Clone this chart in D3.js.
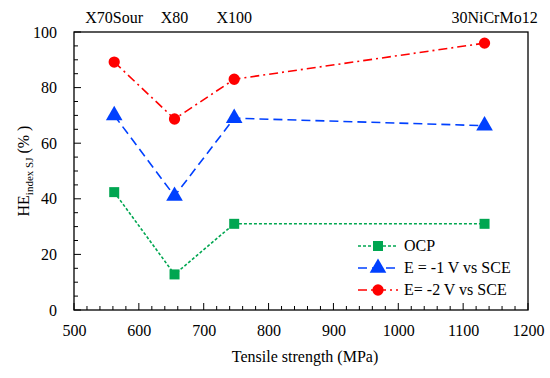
<!DOCTYPE html>
<html>
<head>
<meta charset="utf-8">
<script src="https://cdn.jsdelivr.net/npm/d3@7"></script>
</head>
<body style="margin:0;background:#fff">
<div id="chart"></div>
<script>
var w = 550, h = 378;
var margin = {top: 32, right: 22, bottom: 68, left: 74};
var font = "Liberation Serif";

// tensile strength of each steel (MPa)
var strength = [562, 655, 747, 1133];
var steels = ["X70Sour", "X80", "X100", "30NiCrMo12"];
// HE index (%)
var ocp = [42.4, 12.8, 31, 31];
var eMinus1 = [70, 41, 69, 66.3];
var eMinus2 = [89.2, 68.7, 83, 96];

var xTicks = [500, 600, 700, 800, 900, 1000, 1100, 1200];
var yTicks = [0, 20, 40, 60, 80, 100];

var series = [
    {name: "OCP", values: ocp, color: "#00a651", dash: "3,2", shape: d3.symbolSquare, size: 100},
    {name: "E = -1 V vs SCE", values: eMinus1, color: "#0040ff", dash: "9,5", shape: d3.symbolTriangle, size: 120},
    {name: "E= -2 V vs SCE", values: eMinus2, color: "#ff0000", dash: "9,4,2,4", shape: d3.symbolCircle, size: 100}
];

var svg = d3.select("#chart").append("svg")
    .attr("width", w)
    .attr("height", h)
    .attr("font-family", font);

var pw = w - margin.left - margin.right;
var ph = h - margin.top - margin.bottom;

var x = d3.scaleLinear().domain([500, 1200]).range([margin.left, margin.left + pw]);
var y = d3.scaleLinear().domain([0, 100]).range([margin.top + ph, margin.top]);

//frame
svg.append("rect")
    .attr("x", margin.left).attr("y", margin.top)
    .attr("width", pw).attr("height", ph)
    .attr("fill", "none").attr("stroke", "#000").attr("stroke-width", 1.3);

//ticks, inward, minor ones shorter
var xMinor = d3.range(500, 1201, 20);
var yMinor = d3.range(0, 101, 5);
svg.append("g").selectAll("line").data(xMinor).enter().append("line")
    .attr("x1", function (d) { return x(d); }).attr("x2", function (d) { return x(d); })
    .attr("y1", y(0)).attr("y2", function (d) { return y(0) - (d % 100 === 0 ? 7 : 4); })
    .attr("stroke", "#000").attr("stroke-width", 1);
svg.append("g").selectAll("line").data(yMinor).enter().append("line")
    .attr("y1", function (d) { return y(d); }).attr("y2", function (d) { return y(d); })
    .attr("x1", x(500)).attr("x2", function (d) { return x(500) + (d % 20 === 0 ? 7 : 4); })
    .attr("stroke", "#000").attr("stroke-width", 1);

//tick labels via axes
var xAxis = svg.append("g")
    .attr("transform", "translate(0," + (margin.top + ph) + ")")
    .call(d3.axisBottom(x).tickValues(xTicks).tickSize(0).tickPadding(15).tickFormat(d3.format("d")));
var yAxis = svg.append("g")
    .attr("transform", "translate(" + margin.left + ",0)")
    .call(d3.axisLeft(y).tickValues(yTicks).tickSize(0).tickPadding(17).tickFormat(d3.format("d")));
[xAxis, yAxis].forEach(function (a) {
    a.attr("font-family", font).attr("font-size", 16);
    a.select(".domain").remove();
    a.selectAll("text").attr("font-family", font).attr("font-size", 16).attr("fill", "#000");
});

//axis titles
svg.append("text")
    .attr("x", margin.left + pw / 2 + 4).attr("y", h - 16)
    .attr("text-anchor", "middle").attr("font-size", 16).attr("font-family", font)
    .text("Tensile strength (MPa)");

var yt = svg.append("text")
    .attr("transform", "translate(29," + (margin.top + ph / 2) + ") rotate(-90)")
    .attr("text-anchor", "middle").attr("font-size", 16).attr("font-family", font);
yt.append("tspan").text("HE");
yt.append("tspan").attr("dy", 4).attr("font-size", 11).text("index SJ");
yt.append("tspan").attr("dy", -4).text(" (% )");

//steel names on top
svg.append("g").selectAll("text").data(steels).enter().append("text")
    .attr("x", function (d, i) { return x(strength[i]) + (i === 3 ? 10 : 0); })
    .attr("y", 23)
    .attr("text-anchor", "middle").attr("font-size", 16).attr("font-family", font)
    .text(function (d) { return d; });

//series
var line = d3.line()
    .x(function (d, i) { return x(strength[i]); })
    .y(function (d) { return y(d); });

series.forEach(function (s) {
    svg.append("path")
        .attr("d", line(s.values))
        .attr("fill", "none")
        .attr("stroke", s.color)
        .attr("stroke-width", 1.6)
        .attr("stroke-dasharray", s.dash);
    svg.append("g").selectAll("path").data(s.values).enter().append("path")
        .attr("d", d3.symbol().type(s.shape).size(s.size))
        .attr("transform", function (d, i) {
            return "translate(" + x(strength[i]) + "," + y(d) + ")";
        })
        .attr("fill", s.color);
});

//legend
var legend = svg.append("g").attr("transform", "translate(358,246)");
series.forEach(function (s, i) {
    var g = legend.append("g").attr("transform", "translate(0," + (i * 22) + ")");
    g.append("line").attr("x1", 0).attr("x2", 40).attr("y1", 0).attr("y2", 0)
        .attr("stroke", s.color).attr("stroke-width", 1.6).attr("stroke-dasharray", s.dash);
    g.append("path").attr("d", d3.symbol().type(s.shape).size(s.size))
        .attr("transform", "translate(20,0)").attr("fill", s.color);
    g.append("text").attr("x", 46).attr("y", 5).attr("font-size", 16).attr("font-family", font).text(s.name);
});
</script>
</body>
</html>
